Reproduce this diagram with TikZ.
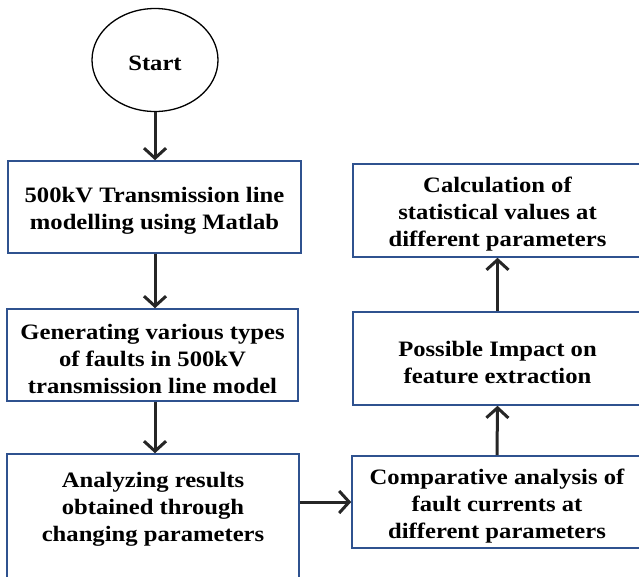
\documentclass[tikz,border=0pt]{standalone}
\usepackage{fontspec}
\setmainfont{Liberation Serif}[FakeStretch=1.12]
\usetikzlibrary{arrows.meta,shapes.geometric}
\definecolor{boxblue}{HTML}{2F528F}
\definecolor{arrowgray}{HTML}{262626}
\begin{document}
\begin{tikzpicture}[x=1pt,y=-1pt,
 box/.style={draw=boxblue, line width=1.6pt, rectangle, inner sep=0pt, fill=white},
 txt/.style={font=\bfseries\fontsize{22}{27}\selectfont, align=center, text=black, inner sep=0pt},
 conn/.style={draw=arrowgray, line width=3pt, -{Straight Barb[length=10pt,width=22pt]}}]
\useasboundingbox (0,0) rectangle (639,576);
\clip (0,0) rectangle (639,576);
\fill[white] (0,0) rectangle (639,576);
\node[draw=black, line width=1.3pt, ellipse, minimum width=126pt, minimum height=103pt, inner sep=0pt] (start) at (155,60) {};
\node[txt] (t0) at (155,63) {Start};
\node[box, minimum width=293pt, minimum height=92pt] (b1) at (154.5,207) {};
\node[box, minimum width=291pt, minimum height=92pt] (b2) at (152.5,355) {};
\node[box, minimum width=292pt, minimum height=146pt] (b3) at (153,527) {};
\node[box, minimum width=290pt, minimum height=92pt] (b4) at (497,502) {};
\node[box, minimum width=289pt, minimum height=93pt] (b5) at (497.5,358.5) {};
\node[box, minimum width=289pt, minimum height=93pt] (b6) at (497.5,210.5) {};
\node[txt] (t1) at (154.5,211) {500kV Transmission line\\modelling using Matlab};
\node[txt] (t2) at (152.5,359) {Generating various types\\of faults in 500kV\\transmission line model};
\node[txt, anchor=north] (t3) at (153,472) {Analyzing results\\obtained through\\changing parameters};
\node[txt] (t4) at (497,506) {Comparative analysis of\\fault currents at\\different parameters};
\node[txt] (t5) at (497.5,362) {Possible Impact on\\feature extraction};
\node[txt] (t6) at (497.5,214) {Calculation of\\statistical values at\\different parameters};
\draw[conn] (start.south) -- (start.south |- b1.north);
\draw[conn] (b1.south -| start.south) -- (b2.north -| start.south);
\draw[conn] (b2.south -| start.south) -- (b3.north -| start.south);
\draw[conn] (b3.east |- b4.west) -- (b4.west);
\draw[conn] (b4.north) -- (b5.south);
\draw[conn] (b5.north) -- (b6.south);
\end{tikzpicture}
\end{document}
